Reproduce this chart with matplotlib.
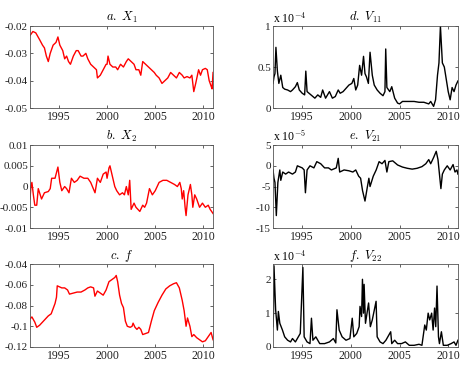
import numpy as np
import matplotlib
matplotlib.use('Agg')
import matplotlib.pyplot as plt

plt.rcParams['font.family'] = 'Liberation Serif'
plt.rcParams['mathtext.fontset'] = 'cm'

# ---- data ----
t_x1 = [1992.0, 1992.3, 1992.6, 1993.0, 1993.3, 1993.5, 1993.7, 1993.9, 1994.1, 1994.4,
        1994.7, 1994.9, 1995.1, 1995.4, 1995.6, 1995.8, 1996.0, 1996.2, 1996.5, 1996.8,
        1997.0, 1997.3, 1997.5, 1997.8, 1998.0, 1998.3, 1998.6, 1998.9, 1999.0, 1999.3,
        1999.6, 1999.9, 2000.0, 2000.1, 2000.3, 2000.6, 2000.9, 2001.1, 2001.4, 2001.7,
        2002.0, 2002.2, 2002.5, 2002.8, 2003.0, 2003.3, 2003.5, 2003.7, 2004.0, 2004.3,
        2004.6, 2004.9, 2005.1, 2005.4, 2005.7, 2006.0, 2006.3, 2006.6, 2006.9, 2007.2,
        2007.5, 2007.8, 2008.0, 2008.3, 2008.6, 2008.8, 2009.0, 2009.2, 2009.5, 2009.7,
        2009.9, 2010.2, 2010.4, 2010.6, 2010.8, 2010.9, 2011.0]
x1 = [-0.0235, -0.022, -0.0225, -0.025, -0.027, -0.028, -0.031, -0.033, -0.030, -0.027,
      -0.026, -0.024, -0.027, -0.029, -0.032, -0.031, -0.033, -0.034, -0.031, -0.029,
      -0.029, -0.031, -0.031, -0.030, -0.032, -0.034, -0.035, -0.036, -0.039, -0.038,
      -0.036, -0.034, -0.034, -0.031, -0.034, -0.035, -0.035, -0.036, -0.034, -0.035,
      -0.033, -0.032, -0.033, -0.034, -0.036, -0.036, -0.038, -0.033, -0.034, -0.035,
      -0.036, -0.037, -0.038, -0.039, -0.041, -0.040, -0.039, -0.037, -0.038, -0.039,
      -0.037, -0.038, -0.039, -0.0385, -0.039, -0.038, -0.044, -0.041, -0.036, -0.038,
      -0.036, -0.0355, -0.036, -0.040, -0.042, -0.043, -0.037]

t_x2 = [1992.0, 1992.1, 1992.2, 1992.35, 1992.5, 1992.7, 1992.86, 1993.2, 1993.5, 1993.9,
        1994.1, 1994.25, 1994.6, 1994.9, 1995.1, 1995.3, 1995.6, 1995.8, 1996.05, 1996.3,
        1996.6, 1996.9, 1997.2, 1997.6, 1998.0, 1998.3, 1998.75, 1999.0, 1999.3, 1999.6,
        1999.9, 2000.0, 2000.2, 2000.3, 2000.6, 2000.8, 2001.0, 2001.3, 2001.6, 2001.8,
        2002.0, 2002.2, 2002.35, 2002.5, 2002.8, 2003.0, 2003.2, 2003.4, 2003.7, 2003.9,
        2004.1, 2004.4, 2004.7, 2005.0, 2005.4, 2005.8, 2006.2, 2006.6, 2007.0, 2007.3,
        2007.55, 2007.7, 2007.8, 2007.95, 2008.1, 2008.2, 2008.4, 2008.65, 2008.8, 2008.9,
        2009.1, 2009.3, 2009.6, 2009.9, 2010.2, 2010.5, 2010.7, 2011.0]
x2 = [-0.003, 0.0, 0.001, -0.002, -0.0045, -0.0045, -0.0005, -0.003, -0.0015, -0.0012,
      -0.0005, 0.002, 0.002, 0.0047, 0.001, -0.001, 0.0, -0.0005, -0.0015, 0.002,
      0.001, 0.0015, 0.0025, 0.002, 0.002, 0.001, -0.0015, 0.002, 0.001, 0.003,
      0.0035, 0.002, 0.0045, 0.005, 0.002, 0.0, -0.001, -0.002, -0.0015, -0.002,
      0.0, -0.002, 0.0015, -0.0055, -0.004, -0.005, -0.0055, -0.006, -0.0045, -0.005,
      -0.004, -0.0005, -0.002, -0.001, 0.001, 0.0015, 0.0015, 0.001, 0.0005, 0.0,
      0.001, -0.0005, -0.003, -0.001, -0.005, -0.007, -0.002, 0.0005, -0.002, -0.005,
      -0.002, -0.003, -0.005, -0.004, -0.005, -0.0045, -0.0055, -0.0065]

t_f = [1992.0, 1992.2, 1992.5, 1992.7, 1993.0, 1993.3, 1993.6, 1993.9, 1994.2, 1994.4,
       1994.6, 1994.75, 1994.83, 1995.3, 1995.6, 1995.9, 1996.1, 1996.5, 1996.9, 1997.3,
       1997.7, 1998.0, 1998.3, 1998.6, 1998.74, 1999.0, 1999.3, 1999.6, 1999.9, 2000.2,
       2000.5, 2000.8, 2000.95, 2001.1, 2001.3, 2001.5, 2001.7, 2001.9, 2002.1, 2002.4,
       2002.6, 2002.7, 2002.9, 2003.1, 2003.3, 2003.5, 2003.7, 2004.0, 2004.3, 2004.6,
       2004.9, 2005.3, 2005.7, 2006.1, 2006.5, 2006.9, 2007.2, 2007.5, 2007.8, 2008.0,
       2008.2, 2008.35, 2008.6, 2008.8, 2009.0, 2009.3, 2009.6, 2009.9, 2010.2, 2010.5,
       2010.8, 2011.0]
f = [-0.093, -0.091, -0.096, -0.101, -0.099, -0.096, -0.093, -0.090, -0.088, -0.083,
     -0.078, -0.072, -0.061, -0.063, -0.063, -0.065, -0.069, -0.068, -0.067, -0.067,
     -0.065, -0.063, -0.062, -0.063, -0.071, -0.066, -0.068, -0.070, -0.065, -0.057,
     -0.055, -0.053, -0.051, -0.057, -0.070, -0.078, -0.082, -0.095, -0.100, -0.101,
     -0.100, -0.097, -0.101, -0.103, -0.101, -0.103, -0.108, -0.107, -0.106, -0.095,
     -0.085, -0.077, -0.070, -0.064, -0.061, -0.059, -0.058, -0.063, -0.075, -0.085,
     -0.100, -0.092, -0.100, -0.110, -0.108, -0.111, -0.113, -0.115, -0.114, -0.110,
     -0.106, -0.113]

# V11 in units of 1e-4
t_v11 = [1992.0, 1992.1, 1992.2, 1992.3, 1992.45, 1992.6, 1992.8, 1993.0, 1993.2, 1993.5,
         1993.8, 1994.0, 1994.3, 1994.5, 1994.7, 1995.0, 1995.25, 1995.37, 1995.5, 1995.8,
         1996.0, 1996.3, 1996.6, 1996.9, 1997.1, 1997.4, 1997.8, 1998.1, 1998.4, 1998.7,
         1998.9, 1999.2, 1999.5, 1999.8, 2000.1, 2000.3, 2000.5, 2000.7, 2000.9, 2001.1,
         2001.3, 2001.45, 2001.6, 2001.8, 2001.97, 2002.2, 2002.4, 2002.7, 2003.0, 2003.3,
         2003.5, 2003.58, 2003.7, 2004.0, 2004.2, 2004.5, 2004.8, 2005.0, 2005.3, 2005.7,
         2006.0, 2006.5, 2007.0, 2007.5, 2008.0, 2008.2, 2008.5, 2008.7, 2008.9, 2009.05,
         2009.2, 2009.4, 2009.6, 2009.8, 2010.0, 2010.2, 2010.4, 2010.6, 2010.8, 2011.0]
v11 = [0.30, 0.38, 0.42, 0.74, 0.45, 0.30, 0.40, 0.25, 0.23, 0.22,
       0.20, 0.22, 0.26, 0.31, 0.22, 0.18, 0.16, 0.45, 0.20, 0.17,
       0.15, 0.12, 0.16, 0.13, 0.22, 0.12, 0.20, 0.12, 0.14, 0.22,
       0.18, 0.20, 0.24, 0.28, 0.30, 0.36, 0.22, 0.28, 0.52, 0.40,
       0.63, 0.42, 0.38, 0.30, 0.68, 0.40, 0.28, 0.22, 0.18, 0.15,
       0.20, 0.72, 0.25, 0.20, 0.26, 0.12, 0.06, 0.05, 0.08, 0.08,
       0.08, 0.08, 0.07, 0.07, 0.05, 0.08, 0.02, 0.10, 0.40, 0.55,
       1.00, 0.55, 0.50, 0.35, 0.20, 0.10, 0.25, 0.20, 0.28, 0.33]

# V21 in units of 1e-5
t_v21 = [1992.0, 1992.1, 1992.2, 1992.34, 1992.5, 1992.7, 1992.8, 1993.0, 1993.3, 1993.6,
         1994.0, 1994.3, 1994.5, 1995.0, 1995.2, 1995.33, 1995.5, 1995.8, 1996.2, 1996.5,
         1996.9, 1997.3, 1997.7, 1998.0, 1998.5, 1998.7, 1998.85, 1999.3, 1999.8, 2000.2,
         2000.5, 2000.8, 2001.0, 2001.2, 2001.45, 2001.7, 2001.85, 2001.97, 2002.3, 2002.6,
         2002.9, 2003.2, 2003.5, 2003.7, 2003.9, 2004.3, 2004.8, 2005.3, 2005.8, 2006.3,
         2006.8, 2007.3, 2007.7, 2008.0, 2008.2, 2008.5, 2008.77, 2008.95, 2009.25, 2009.4,
         2009.6, 2009.9, 2010.2, 2010.5, 2010.7, 2010.9, 2011.0]
v21 = [-1.0, -3.0, -4.0, -12.0, -4.0, -1.0, -3.5, -1.5, -2.0, -1.5,
       -2.0, -1.5, 0.0, -0.5, -1.0, -6.5, -1.0, 0.0, -0.5, 1.0,
       0.5, -0.5, -0.5, -1.0, -0.5, 1.8, -1.5, -1.0, -1.2, -1.5,
       -1.0, -2.5, -3.0, -6.0, -8.5, -5.0, -3.0, -5.0, -2.5, -1.0,
       1.0, 0.5, 1.3, -1.5, 1.0, 1.2, 0.2, -0.3, -0.6, -0.8,
       -0.6, -0.2, 0.5, 1.5, 0.5, 2.0, 3.5, 1.5, -5.5, -2.0,
       -1.0, 0.0, -1.0, 0.3, -1.5, -1.0, -2.0]

# V22 in units of 1e-4
t_v22 = [1992.0, 1992.05, 1992.1, 1992.27, 1992.45, 1992.55, 1992.7, 1992.97, 1993.2, 1993.5,
         1993.8, 1994.0, 1994.3, 1994.6, 1994.8, 1995.07, 1995.2, 1995.5, 1995.8, 1995.95,
         1996.1, 1996.4, 1996.8, 1997.3, 1997.8, 1998.2, 1998.45, 1998.57, 1998.8, 1999.1,
         1999.5, 1999.9, 2000.14, 2000.3, 2000.6, 2000.85, 2000.94, 2001.1, 2001.19, 2001.3,
         2001.36, 2001.5, 2001.82, 2002.0, 2002.2, 2002.59, 2002.7, 2003.0, 2003.3, 2003.6,
         2004.09, 2004.2, 2004.5, 2004.8, 2005.2, 2005.6, 2006.0, 2006.5, 2007.0, 2007.3,
         2007.59, 2007.75, 2007.94, 2008.1, 2008.3, 2008.45, 2008.6, 2008.72, 2008.85, 2009.0,
         2009.1, 2009.3, 2009.5, 2009.9, 2010.3, 2010.6, 2010.8, 2011.0]
v22 = [0.6, 1.0, 2.4, 1.1, 0.5, 1.05, 0.7, 0.5, 0.3, 0.2,
       0.15, 0.25, 0.15, 0.3, 0.4, 2.35, 0.3, 0.15, 0.1, 0.85,
       0.2, 0.3, 0.1, 0.1, 0.15, 0.25, 0.12, 1.1, 0.5, 0.3,
       0.2, 0.25, 0.85, 0.3, 0.4, 0.6, 1.2, 0.9, 2.0, 1.0,
       1.85, 0.7, 1.3, 0.6, 0.8, 1.35, 0.3, 0.15, 0.1, 0.2,
       0.45, 0.1, 0.2, 0.1, 0.1, 0.15, 0.05, 0.05, 0.08, 0.05,
       0.65, 0.5, 1.0, 0.8, 1.0, 0.5, 1.15, 0.6, 1.8, 0.3,
       0.1, 0.45, 0.05, 0.05, 0.1, 0.15, 0.05, 0.2]

year_ticks = [1995, 2000, 2005, 2010]

# ---- figure ----
fig = plt.figure(figsize=(4.67, 3.67), dpi=100)

left_x, left_w = 0.0642, 0.392
right_x, right_w = 0.5846, 0.396
rows = [(0.7057, 0.2234), (0.3787, 0.226), (0.0545, 0.226)]

panels = [
    # (col, row, t, y, color, title, ylim, yticks, yticklabels, scale label)
    (0, 0, t_x1, x1, 'red', r'$a.\ X_1$', (-0.05, -0.02),
     [-0.05, -0.04, -0.03, -0.02], ['-0.05', '-0.04', '-0.03', '-0.02'], None),
    (0, 1, t_x2, x2, 'red', r'$b.\ X_2$', (-0.01, 0.01),
     [-0.01, -0.005, 0, 0.005, 0.01], ['-0.01', '-0.005', '0', '0.005', '0.01'], None),
    (0, 2, t_f, f, 'red', r'$c.\ f$', (-0.12, -0.04),
     [-0.12, -0.1, -0.08, -0.06, -0.04], ['-0.12', '-0.1', '-0.08', '-0.06', '-0.04'], None),
    (1, 0, t_v11, v11, 'black', r'$d.\ V_{11}$', (0, 1),
     [0, 0.5, 1], ['0', '0.5', '1'], r'x 10$^{-4}$'),
    (1, 1, t_v21, v21, 'black', r'$e.\ V_{21}$', (-15, 5),
     [-15, -10, -5, 0, 5], ['-15', '-10', '-5', '0', '5'], r'x 10$^{-5}$'),
    (1, 2, t_v22, v22, 'black', r'$f.\ V_{22}$', (0, 2.45),
     [0, 1, 2], ['0', '1', '2'], r'x 10$^{-4}$'),
]

for col, row, t, y, color, title, ylim, yticks, ylabels, scale in panels:
    x0 = left_x if col == 0 else right_x
    w = left_w if col == 0 else right_w
    b, h = rows[row]
    ax = fig.add_axes([x0, b, w, h])
    ax.plot(t, y, color=color, lw=1.0)
    ax.set_xlim(1992.0, 2011.0)
    ax.set_ylim(*ylim)
    ax.set_xticks(year_ticks)
    ax.set_yticks(yticks)
    ax.set_yticklabels(ylabels)
    ax.tick_params(direction='in', length=2, width=0.5, labelsize=8.5,
                   top=True, right=True, pad=2, colors='#222222')
    ax.tick_params(axis='y', labelsize=8, pad=1.5)
    for sp in ax.spines.values():
        sp.set_linewidth(0.6)
        sp.set_color('#555555')
    ax.set_title(title, fontsize=9, pad=4)
    if scale:
        ax.text(0.0, 1.01, scale, transform=ax.transAxes, fontsize=8.5,
                ha='left', va='bottom')

fig.savefig('out.png', dpi=100)
